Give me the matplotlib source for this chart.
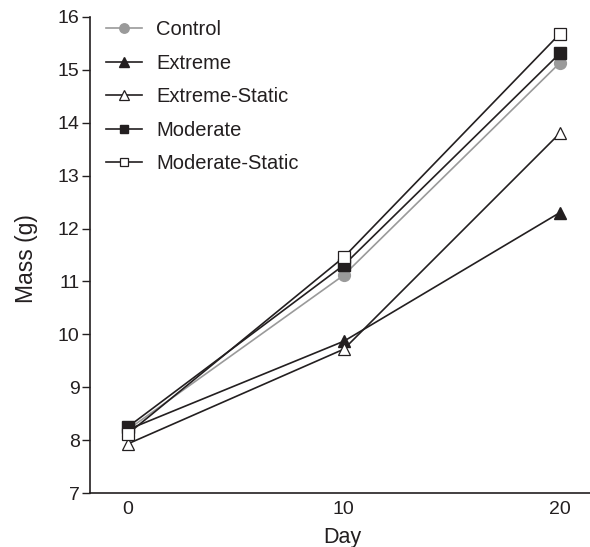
import matplotlib
matplotlib.use('Agg')
import matplotlib.pyplot as plt

plt.rcParams['font.family'] = ['Liberation Sans', 'DejaVu Sans']

days = [0, 10, 20]
control = [8.20, 11.12, 15.13]
extreme = [8.20, 9.87, 12.30]
extreme_static = [7.93, 9.72, 13.80]
moderate = [8.25, 11.31, 15.31]
moderate_static = [8.12, 11.46, 15.68]

ink = '#231f20'
fig = plt.figure(figsize=(5.9, 5.47), dpi=100)
ax = fig.add_axes((0.1525, 0.0987, 0.8475, 0.8703))

ax.plot(days, control, color='#9a9a9a', lw=1.2, marker='o', ms=8.5,
        mfc='#9a9a9a', mec='#9a9a9a', label='Control')
ax.plot(days, extreme, color=ink, lw=1.2, marker='^', ms=8.5,
        mfc=ink, mec=ink, label='Extreme')
ax.plot(days, extreme_static, color=ink, lw=1.2, marker='^', ms=8.5,
        mfc='white', mec=ink, mew=0.9, label='Extreme-Static')
ax.plot(days, moderate, color=ink, lw=1.2, marker='s', ms=8,
        mfc=ink, mec=ink, label='Moderate')
ax.plot(days, moderate_static, color=ink, lw=1.2, marker='s', ms=8,
        mfc='white', mec=ink, mew=0.9, label='Moderate-Static')

ax.set_xlim(-1.76, 21.4)
ax.set_ylim(7, 16)
ax.set_xticks(days)
ax.set_yticks(range(7, 17))
ax.tick_params(axis='x', length=0, labelsize=14, colors=ink, pad=6)
ax.tick_params(axis='y', length=5.5, width=1, labelsize=14, colors=ink, pad=2)
for s in ['top', 'right']:
    ax.spines[s].set_visible(False)
for s in ['left', 'bottom']:
    ax.spines[s].set_color(ink)
    ax.spines[s].set_linewidth(1.2)

ax.set_xlabel('Day', fontsize=15.5, color=ink, va='baseline')
ax.set_ylabel('Mass (g)', fontsize=16.5, color=ink)
ax.xaxis.set_label_coords(0.504, -0.104)
ax.yaxis.set_label_coords(-0.104, 0.492)

leg = ax.legend(loc='upper left', bbox_to_anchor=(0.004, 1.023), frameon=False,
                fontsize=14.5, handlelength=1.8, handletextpad=0.7,
                labelspacing=0.72, borderaxespad=0.3, markerscale=0.8)
for t in leg.get_texts():
    t.set_color(ink)

fig.savefig('out.png', dpi=100)
